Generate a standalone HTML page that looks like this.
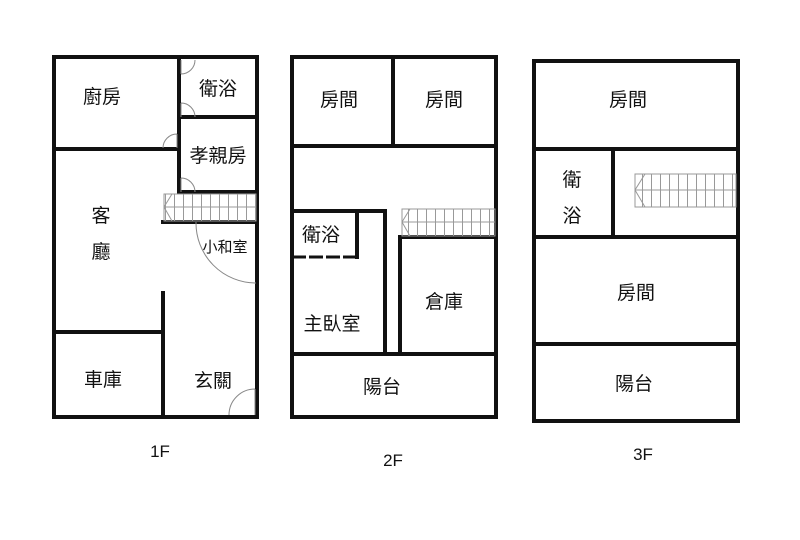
<!DOCTYPE html>
<html><head><meta charset="utf-8"><style>
html,body{margin:0;padding:0;background:#fff;}
svg{display:block;}
text{font-family:"Liberation Sans","Noto Sans CJK TC",sans-serif;fill:#111;}
</style></head><body>
<svg width="800" height="540" viewBox="0 0 800 540" xmlns="http://www.w3.org/2000/svg">
<defs>
<pattern id="st" width="9" height="100" patternUnits="userSpaceOnUse" x="3">
<line x1="0.5" y1="0" x2="0.5" y2="100" stroke="#999" stroke-width="1"/>
</pattern>
</defs>
<rect width="800" height="540" fill="#fff"/>
<g stroke="#111" stroke-width="4" fill="none" stroke-linecap="square">
<rect x="54" y="57" width="203" height="360"/>
<line x1="179" y1="57" x2="179" y2="192"/>
<line x1="54" y1="149" x2="179" y2="149"/>
<line x1="179" y1="117" x2="257" y2="117"/>
<line x1="179" y1="192" x2="257" y2="192"/>
<line x1="163" y1="222" x2="257" y2="222"/>
<line x1="163" y1="293" x2="163" y2="417"/>
<line x1="54" y1="332" x2="163" y2="332"/>
<rect x="292" y="57" width="204" height="360"/>
<line x1="393" y1="57" x2="393" y2="146"/>
<line x1="292" y1="146" x2="496" y2="146"/>
<line x1="292" y1="211" x2="385" y2="211"/>
<line x1="357" y1="211" x2="357" y2="257"/>
<line x1="385" y1="211" x2="385" y2="354"/>
<line x1="400" y1="237" x2="400" y2="354"/>
<line x1="400" y1="237" x2="496" y2="237"/>
<line x1="292" y1="354" x2="496" y2="354"/>
<rect x="534" y="61" width="204" height="360"/>
<line x1="534" y1="149" x2="738" y2="149"/>
<line x1="613" y1="149" x2="613" y2="237"/>
<line x1="534" y1="237" x2="738" y2="237"/>
<line x1="534" y1="344" x2="738" y2="344"/>
</g>
<line x1="292" y1="257" x2="357" y2="257" stroke="#111" stroke-width="3" stroke-dasharray="14,3"/>
<g stroke="#999" stroke-width="1" fill="none">
<rect x="164" y="194" width="92" height="27" fill="url(#st)"/>
<line x1="164" y1="207" x2="256" y2="207"/>
<polyline points="172,194 164,207 172,221"/>
<rect x="402" y="209" width="93" height="27" fill="url(#st)"/>
<line x1="402" y1="222" x2="495" y2="222"/>
<polyline points="410,209 402,222 410,236"/>
<rect x="635" y="174" width="101" height="33" fill="url(#st)"/>
<line x1="635" y1="190" x2="736" y2="190"/>
<polyline points="645,174 635,190 645,207"/>
</g>
<g stroke="#888" stroke-width="1" fill="none">
<path d="M181 74 A14 14 0 0 0 195 60 M181 60 L181 74"/>
<path d="M181 103 A14 14 0 0 1 195 117 M181 103 L181 117"/>
<path d="M177 134 A14 14 0 0 0 163 148 M177 134 L177 148"/>
<path d="M181 178 A14 14 0 0 1 195 192 M181 178 L181 192"/>
<path d="M196 222 A60 60 0 0 0 256 283"/>
<path d="M255 389 A26 26 0 0 0 229 415 M255 389 L255 415"/>
</g>
<g font-size="19" text-anchor="middle">
<text x="102" y="103">廚房</text>
<text x="218" y="95">衛浴</text>
<text x="218" y="162">孝親房</text>
<text x="101" y="222">客</text>
<text x="101" y="258">廳</text>
<text x="225" y="252" font-size="15">小和室</text>
<text x="103" y="386">車庫</text>
<text x="213" y="387">玄關</text>
<text x="339" y="106">房間</text>
<text x="444" y="106">房間</text>
<text x="321" y="241">衛浴</text>
<text x="332" y="330">主臥室</text>
<text x="444" y="308">倉庫</text>
<text x="382" y="393">陽台</text>
<text x="628" y="106">房間</text>
<text x="572" y="186">衛</text>
<text x="572" y="222">浴</text>
<text x="636" y="299">房間</text>
<text x="634" y="390">陽台</text>
<text x="160" y="457" font-size="17">1F</text>
<text x="393" y="466" font-size="17">2F</text>
<text x="643" y="460" font-size="17">3F</text>
</g>
</svg>
</body></html>
